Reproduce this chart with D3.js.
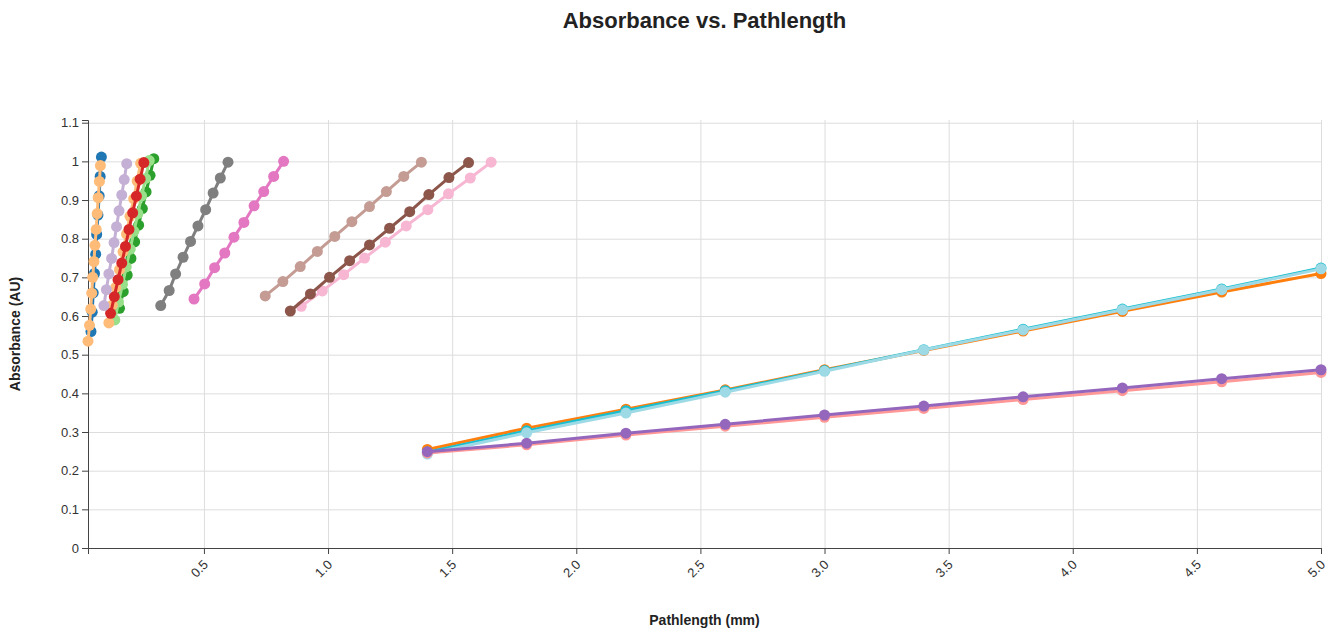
<!DOCTYPE html>
<html>
<head>
<meta charset="utf-8">
<script src="https://cdn.jsdelivr.net/npm/d3@7"></script>
<style>
  body { margin: 0; background: #fff; font-family: "Liberation Sans", Arial, sans-serif; }
  .grid line { stroke: #ddd; stroke-width: 1; }
  .grid .domain { display: none; }
  .axis text { font-size: 13px; fill: #333; }
  .axis path, .axis line { stroke: #444; }
</style>
</head>
<body>
<div id="vis"></div>
<script>
////////////////////////////////////////
/////////////// Data ///////////////////
////////////////////////////////////////

// pathlength (mm) and absorbance (AU), one pair of arrays per run
const blueX = [0.045, 0.050, 0.054, 0.059, 0.064, 0.068, 0.073, 0.078, 0.082, 0.087];
const blueY = [0.560, 0.610, 0.660, 0.710, 0.760, 0.811, 0.861, 0.911, 0.961, 1.011];

const lightOrangeX = [0.033, 0.039, 0.044, 0.048, 0.052, 0.057, 0.061, 0.066, 0.070, 0.074, 0.079, 0.083];
const lightOrangeY = [0.535, 0.576, 0.618, 0.659, 0.700, 0.741, 0.783, 0.824, 0.865, 0.906, 0.948, 0.989];

const greenX = [0.160, 0.175, 0.191, 0.206, 0.221, 0.237, 0.252, 0.267, 0.283, 0.298];
const greenY = [0.620, 0.663, 0.706, 0.749, 0.792, 0.835, 0.878, 0.921, 0.964, 1.007];

const lightGreenX = [0.141, 0.156, 0.172, 0.187, 0.203, 0.218, 0.234, 0.249, 0.265, 0.280];
const lightGreenY = [0.590, 0.636, 0.682, 0.727, 0.773, 0.819, 0.865, 0.911, 0.956, 1.002];

const lightOrange2X = [0.117, 0.131, 0.145, 0.160, 0.174, 0.188, 0.202, 0.217, 0.231, 0.245];
const lightOrange2Y = [0.582, 0.628, 0.674, 0.720, 0.766, 0.812, 0.858, 0.903, 0.949, 0.995];

const redX = [0.124, 0.139, 0.154, 0.169, 0.184, 0.198, 0.213, 0.228, 0.243, 0.258];
const redY = [0.607, 0.650, 0.694, 0.737, 0.780, 0.824, 0.867, 0.910, 0.954, 0.997];

const lightPurpleX = [0.097, 0.107, 0.117, 0.128, 0.138, 0.148, 0.158, 0.169, 0.179, 0.189];
const lightPurpleY = [0.627, 0.668, 0.709, 0.749, 0.790, 0.831, 0.872, 0.913, 0.953, 0.994];

const greyX = [0.326, 0.360, 0.386, 0.416, 0.446, 0.476, 0.507, 0.537, 0.566, 0.597];
const greyY = [0.627, 0.666, 0.709, 0.752, 0.793, 0.833, 0.875, 0.918, 0.957, 0.998];

const pinkX = [0.460, 0.503, 0.543, 0.584, 0.621, 0.661, 0.702, 0.741, 0.781, 0.821];
const pinkY = [0.644, 0.683, 0.725, 0.763, 0.804, 0.842, 0.885, 0.922, 0.961, 1.000];

const lightBrownX = [0.747, 0.818, 0.888, 0.957, 1.027, 1.096, 1.167, 1.235, 1.305, 1.376];
const lightBrownY = [0.652, 0.689, 0.728, 0.767, 0.806, 0.844, 0.883, 0.922, 0.961, 0.998];

const lightPinkX = [0.892, 0.977, 1.063, 1.147, 1.231, 1.315, 1.402, 1.485, 1.573, 1.657];
const lightPinkY = [0.625, 0.665, 0.707, 0.750, 0.791, 0.833, 0.875, 0.916, 0.957, 0.998];

const brownX = [0.848, 0.929, 1.006, 1.087, 1.167, 1.248, 1.329, 1.406, 1.487, 1.566];
const brownY = [0.613, 0.657, 0.700, 0.743, 0.784, 0.827, 0.870, 0.914, 0.958, 0.997];

// long-pathlength runs share the same x positions
const longX = [1.4, 1.8, 2.2, 2.6, 3.0, 3.4, 3.8, 4.2, 4.6, 5.0];
const orangeY = [0.255, 0.310, 0.359, 0.409, 0.461, 0.511, 0.561, 0.612, 0.662, 0.710];
const tealY = [0.248, 0.303, 0.355, 0.407, 0.459, 0.513, 0.566, 0.618, 0.670, 0.724];
const lightTealY = [0.243, 0.298, 0.349, 0.403, 0.457, 0.512, 0.564, 0.616, 0.668, 0.722];
const salmonY = [0.246, 0.267, 0.292, 0.315, 0.338, 0.361, 0.384, 0.407, 0.430, 0.454];
const purpleY = [0.249, 0.271, 0.297, 0.320, 0.344, 0.367, 0.391, 0.414, 0.438, 0.461];

// draw order: later ones sit on top
const seriesList = [
  { x: blueX, y: blueY, color: "#1f77b4" },
  { x: lightOrangeX, y: lightOrangeY, color: "#ffbb78" },
  { x: greenX, y: greenY, color: "#2ca02c" },
  { x: lightGreenX, y: lightGreenY, color: "#98df8a" },
  { x: lightOrange2X, y: lightOrange2Y, color: "#ffbb78" },
  { x: redX, y: redY, color: "#d62728" },
  { x: lightPurpleX, y: lightPurpleY, color: "#c5b0d5" },
  { x: greyX, y: greyY, color: "#7f7f7f" },
  { x: pinkX, y: pinkY, color: "#e377c2" },
  { x: lightBrownX, y: lightBrownY, color: "#c49c94" },
  { x: lightPinkX, y: lightPinkY, color: "#f7b6d2" },
  { x: brownX, y: brownY, color: "#8c564b" },
  { x: longX, y: orangeY, color: "#ff7f0e" },
  { x: longX, y: tealY, color: "#17becf" },
  { x: longX, y: lightTealY, color: "#9edae5" },
  { x: longX, y: salmonY, color: "#ff9896" },
  { x: longX, y: purpleY, color: "#9467bd" },
];

const data = seriesList.map((s) => ({
  color: s.color,
  points: s.x.map((v, i) => ({ x: v, y: s.y[i] })),
}));

////////////////////////////////////////
/////////////// Setup //////////////////
////////////////////////////////////////

const options = {
  width: 1331,
  height: 630,
  margin: { top: 120, right: 10, bottom: 82, left: 88 },
};

const width = options.width - options.margin.left - options.margin.right;
const height = options.height - options.margin.top - options.margin.bottom;

const allPoints = data.flatMap((d) => d.points);

const xScale = d3
  .scaleLinear()
  .domain(d3.extent(allPoints, (d) => d.x))
  .range([0, width]);

const yScale = d3.scaleLinear().domain([0, 1.107]).range([height, 0]);

const svgRoot = d3
  .select("#vis")
  .append("svg")
  .attr("width", options.width)
  .attr("height", options.height);

const svg = svgRoot
  .append("g")
  .attr("transform", `translate(${options.margin.left},${options.margin.top})`);

// gridlines
svg
  .append("g")
  .attr("class", "grid")
  .attr("transform", `translate(0,${height})`)
  .call(d3.axisBottom(xScale).ticks(10).tickSize(-height).tickFormat(""));

svg
  .append("g")
  .attr("class", "grid")
  .call(d3.axisLeft(yScale).ticks(10).tickSize(-width).tickFormat(""));

// axes
const xAxis = svg
  .append("g")
  .attr("class", "axis")
  .attr("transform", `translate(0,${height})`)
  .call(d3.axisBottom(xScale).ticks(10).tickFormat(d3.format(".1f")));

// rotate the x labels so they end at their tick
xAxis
  .selectAll("text")
  .attr("text-anchor", "end")
  .attr("dx", "-0.7em")
  .attr("dy", "0.5em")
  .attr("transform", "rotate(-45)");

svg
  .append("g")
  .attr("class", "axis")
  .call(d3.axisLeft(yScale).ticks(10).tickFormat(d3.format(".1~f")));

////////////////////////////////////////
/////////////// Marks //////////////////
////////////////////////////////////////

const line = d3
  .line()
  .x((d) => xScale(d.x))
  .y((d) => yScale(d.y));

const groups = svg
  .selectAll(".series")
  .data(data)
  .join("g")
  .attr("class", "series");

groups
  .append("path")
  .attr("d", (d) => line(d.points))
  .attr("fill", "none")
  .attr("stroke", (d) => d.color)
  .attr("stroke-width", 3);

groups
  .selectAll("circle")
  .data((d) => d.points.map((p) => ({ ...p, color: d.color })))
  .join("circle")
  .attr("cx", (d) => xScale(d.x))
  .attr("cy", (d) => yScale(d.y))
  .attr("r", 5.5)
  .attr("fill", (d) => d.color);

////////////////////////////////////////
/////////////// Labels /////////////////
////////////////////////////////////////

svgRoot
  .append("text")
  .attr("x", options.margin.left + width / 2)
  .attr("y", 28)
  .attr("text-anchor", "middle")
  .style("font-size", "22px")
  .style("font-weight", "bold")
  .style("fill", "#222")
  .text("Absorbance vs. Pathlength");

svgRoot
  .append("text")
  .attr("x", options.margin.left + width / 2)
  .attr("y", 625)
  .attr("text-anchor", "middle")
  .style("font-size", "14px")
  .style("font-weight", "bold")
  .style("fill", "#222")
  .text("Pathlength (mm)");

svgRoot
  .append("text")
  .attr("transform", `translate(20,${options.margin.top + height / 2}) rotate(-90)`)
  .attr("text-anchor", "middle")
  .style("font-size", "14px")
  .style("font-weight", "bold")
  .style("fill", "#222")
  .text("Absorbance (AU)");
</script>
</body>
</html>
